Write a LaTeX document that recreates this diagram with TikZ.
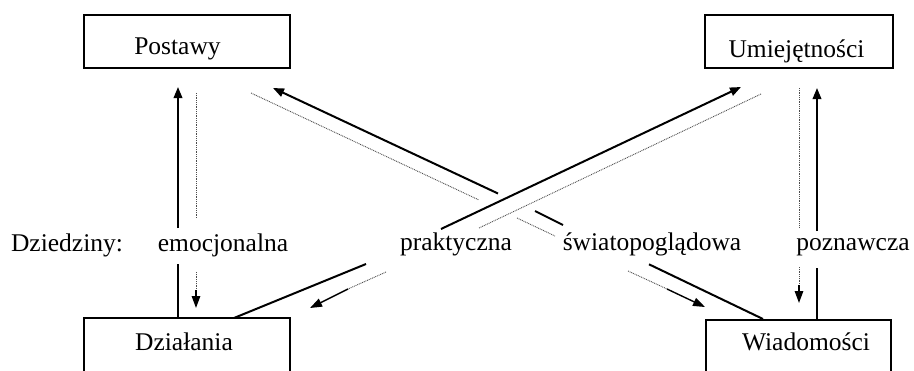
\documentclass[tikz,border=0pt]{standalone}
\usepackage{fontspec}
\setmainfont{Liberation Serif}
\usetikzlibrary{arrows.meta}
\begin{document}
\begin{tikzpicture}[x=1pt,y=-1pt,
  box/.style={draw, line width=2.2pt, inner sep=0pt},
  lbl/.style={anchor=base, inner sep=0pt, font=\fontsize{25.5}{30}\selectfont},
  solidarr/.style={line width=2pt, -{Triangle[length=11pt,width=8.5pt]}},
  solidln/.style={line width=2pt},
  dotln/.style={line width=0.9pt, black!70, dash pattern=on 0.9pt off 0.9pt},
  tiparr/.style={line width=1.4pt, -{Triangle[length=12pt,width=8.5pt]}}]

\clip (0,0) rectangle (914,370);

% the four boxes
\node[box, minimum width=206pt, minimum height=53pt] (postawy) at (187,41.5) {};
\node[box, minimum width=188pt, minimum height=53pt] (umiej) at (799,41.5) {};
\node[box, minimum width=206pt, minimum height=55pt] (dzialania) at (187,345.5) {};
\node[box, minimum width=185pt, minimum height=55pt] (wiad) at (798.5,347.5) {};

\node[lbl] (postawyT) at (177.5,54) {Postawy};
\node[lbl] (umiejT) at (796.5,57) {Umiejętności};
\node[lbl] (dzialT) at (184,350) {Działania};
\node[lbl] (wiadT) at (806,350) {Wiadomości};

% domain labels
\node[lbl] (dziedziny) at (67,251) {Dziedziny:};
\node[lbl] (emo) at (223,251) {emocjonalna};
\node[lbl] (prak) at (456,250) {praktyczna};
\node[lbl] (swiat) at (652,250) {światopoglądowa};
\node[lbl] (pozn) at (853,250) {poznawcza};

% emocjonalna: Działania <-> Postawy
\coordinate (eS1) at (178,228);
\coordinate (eS0) at (178,87);
\coordinate (eS2) at (178,264);
\draw[solidarr] (eS1) -- (eS0);
\draw[solidln] (eS2) -- (eS2 |- dzialania.north);
\coordinate (eD0) at (196,93);
\coordinate (eD1) at (196,218);
\coordinate (eD2) at (196,272);
\coordinate (eD3) at (196,290);
\coordinate (eD4) at (196,308);
\draw[dotln] (eD0) -- (eD1);
\draw[dotln] (eD2) -- (eD3);
\draw[tiparr] (eD3) -- (eD4);

% poznawcza: Wiadomości <-> Umiejętności
\coordinate (pS0) at (817,88);
\coordinate (pS1) at (817,231);
\coordinate (pS2) at (817,268);
\draw[solidarr] (pS1) -- (pS0);
\draw[solidln] (pS2) -- (pS2 |- wiad.north);
\coordinate (pD0) at (799,88);
\coordinate (pD1) at (799,228);
\coordinate (pD2) at (799,267);
\coordinate (pD3) at (799,285);
\coordinate (pD4) at (799,303);
\draw[dotln] (pD0) -- (pD1);
\draw[dotln] (pD2) -- (pD3);
\draw[tiparr] (pD3) -- (pD4);

% światopoglądowa: Wiadomości <-> Postawy (passes under the other diagonal)
\coordinate (wS0) at (273,88);
\coordinate (wS1) at (498,193.5);
\coordinate (wS2) at (535,211);
\coordinate (wS3) at (563,225);
\coordinate (wS4) at (649,264.3);
\coordinate (wS5) at (763,319);
\draw[solidarr] (wS1) -- (wS0);
\draw[solidln] (wS2) -- (wS3);
\draw[solidln] (wS4) -- (wS5);
\coordinate (wD0) at (251,93);
\coordinate (wD1) at (479,200);
\coordinate (wD2) at (517,218);
\coordinate (wD3) at (555,236);
\coordinate (wD4) at (628,271);
\coordinate (wD5) at (667,289);
\coordinate (wD6) at (705,307);
\draw[dotln] (wD0) -- (wD1);
\draw[dotln] (wD2) -- (wD3);
\draw[dotln] (wD4) -- (wD5);
\draw[tiparr] (wD5) -- (wD6);

% praktyczna: Działania <-> Umiejętności
\coordinate (kS0) at (741,87);
\coordinate (kS1) at (441,229);
\coordinate (kS2) at (366,264);
\coordinate (kS3) at (234,318);
\draw[solidarr] (kS1) -- (kS0);
\draw[solidln] (kS2) -- (kS3);
\coordinate (kD0) at (761,94);
\coordinate (kD1) at (479,228);
\coordinate (kD2) at (386,272);
\coordinate (kD3) at (348,289);
\coordinate (kD4) at (310,308);
\draw[dotln] (kD0) -- (kD1);
\draw[dotln] (kD2) -- (kD3);
\draw[tiparr] (kD3) -- (kD4);

\end{tikzpicture}
\end{document}
